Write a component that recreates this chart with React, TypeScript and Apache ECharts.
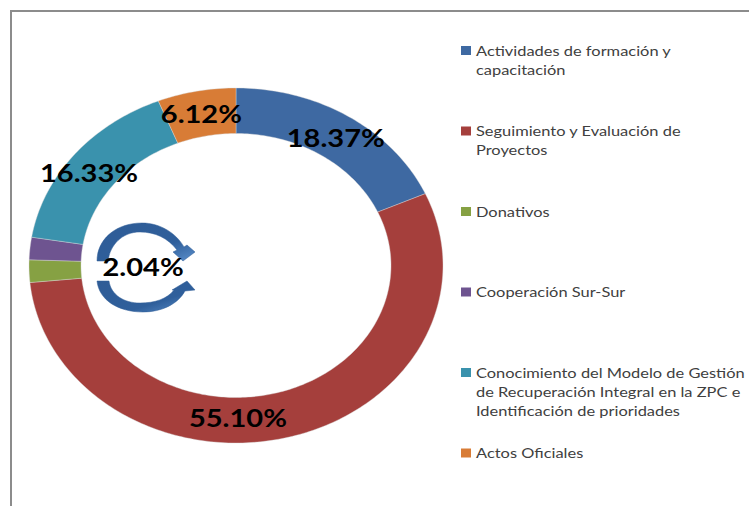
import React, { useEffect, useRef } from "react";
import * as echarts from "echarts";

const categories = [
  "Actividades de formación y capacitación",
  "Seguimiento y Evaluación de Proyectos",
  "Donativos",
  "Cooperación Sur-Sur",
  "Conocimiento del Modelo de Gestión de Recuperación Integral en la ZPC e Identificación de prioridades",
  "Actos Oficiales",
];
const values = [9, 27, 1, 1, 8, 3];
const colors = ["#3E69A2", "#A53F3C", "#86A143", "#6E5490", "#3A92AD", "#D87C36"];
const legendLines = [
  ["Actividades de formación y", "capacitación"],
  ["Seguimiento y Evaluación de", "Proyectos"],
  ["Donativos"],
  ["Cooperación Sur-Sur"],
  ["Conocimiento del Modelo de Gestión", "de Recuperación Integral en la ZPC e", "Identificación de prioridades"],
  ["Actos Oficiales"],
];
// offset of each data label from its slice's ring centre; null = no label
const labelOffsets: ([number, number] | null)[] = [[1, 2], [-44, 3], [88, -3.5], null, [-5.5, 4], [0, 0.5]];

const CX = 236, CY = 265.5, RX = 207, RY = 177.5, RX0 = 155, RY0 = 132;
const total = values.reduce((a, b) => a + b, 0);

const arrowUp = "M97 261 C97 240 115 223 142 223 C160 223 176 233 184 247 L187 245 L195 252 L183 261 L173 252 L177 250 C168 238 155 232 140 232 C122 232 110 245 108 261 Z";
const arrowDown = "M97 281 L109 281 C111 295 124 303 140 303 C155 303 167 299 174 290 L172 290 L187 281 L195 290 L185 291 C178 304 162 312 143 312 C118 312 99 300 97 281 Z";
echarts.graphic.registerShape("arrowUp", echarts.graphic.extendPath(arrowUp, {}));
echarts.graphic.registerShape("arrowDown", echarts.graphic.extendPath(arrowDown, {}));

const pt = (deg: number, rx: number, ry: number): [number, number] => {
  const a = (deg * Math.PI) / 180;
  return [CX + rx * Math.sin(a), CY - ry * Math.cos(a)];
};

const arrowFill = {
  type: "linear", x: 0, y: 0, x2: 1, y2: 1,
  colorStops: [
    { offset: 0, color: "#2F5C96" },
    { offset: 0.65, color: "#2F5F9B" },
    { offset: 1, color: "#5B8FCB" },
  ],
};

export default function App() {
  const ref = useRef<HTMLDivElement>(null);
  useEffect(() => {
    const chart = echarts.init(ref.current!, null, { renderer: "svg" });
    const legendEls: any[] = [];
    legendLines.forEach((lines, i) => {
      const y = 50.5 + i * 80.5;
      legendEls.push({
        type: "rect",
        shape: { x: 461, y: y - 4.5, width: 10, height: 9 },
        style: { fill: colors[i] },
      });
      lines.forEach((line, j) => {
        legendEls.push({
          type: "text", x: 476, y: y - 0.5 + j * 19, scaleX: 1.174,
          style: {
            text: line, fill: "#404040", font: "14px Lato",
            textAlign: "left", textVerticalAlign: "middle",
          },
        });
      });
    });
    chart.setOption({
      animation: false,
      backgroundColor: "#ffffff",
      series: [
        {
          type: "custom",
          coordinateSystem: "none",
          clip: false,
          silent: true,
          data: values.map((v, i) => ({ name: categories[i], value: [v, i] })),
          renderItem: (_p: any, api: any) => {
            const v = api.value(0);
            const i = api.value(1);
            const before = values.slice(0, i).reduce((a, b) => a + b, 0);
            const s = (before / total) * 360;
            const e = ((before + v) / total) * 360;
            const pts: [number, number][] = [];
            for (let d = s; d < e; d += 1) pts.push(pt(d, RX, RY));
            pts.push(pt(e, RX, RY));
            for (let d = e; d > s; d -= 1) pts.push(pt(d, RX0, RY0));
            pts.push(pt(s, RX0, RY0));
            return {
              type: "polygon",
              shape: { points: pts },
              style: { fill: colors[i], stroke: "#D8D8D8", lineWidth: 0.4 },
            };
          },
        },
      ],
      graphic: {
        elements: [
          {
            type: "polyline",
            shape: { points: [[11, 506], [11, 11], [749, 11]] },
            style: { stroke: "#8C8C8C", lineWidth: 2, fill: "none" },
          },
          ...legendEls,
          { type: "arrowUp", x: 0, y: 0, style: { fill: arrowFill, stroke: "#2F5C96", lineWidth: 0.5 } },
          { type: "arrowDown", x: 0, y: 0, style: { fill: arrowFill, stroke: "#2F5C96", lineWidth: 0.5 } },
          ...values.flatMap((v, i) => {
            const off = labelOffsets[i];
            if (!off) return [];
            const before = values.slice(0, i).reduce((a, b) => a + b, 0);
            const mid = ((before + v / 2) / total) * 360;
            const [x, y] = pt(mid, (RX + RX0) / 2, (RY + RY0) / 2);
            return [{
              type: "text", x: x + off[0], y: y + off[1], scaleX: 1.21, z: 10,
              style: {
                text: ((v / total) * 100).toFixed(2) + "%",
                fill: "#000000", font: "bold 24px Lato",
                textAlign: "center", textVerticalAlign: "middle",
              },
            }];
          }),
        ],
      },
    });
    return () => chart.dispose();
  }, []);
  return (
    <div
      ref={ref}
      style={{ position: "fixed", left: 0, top: 0, width: 749, height: 506 }}
    />
  );
}
